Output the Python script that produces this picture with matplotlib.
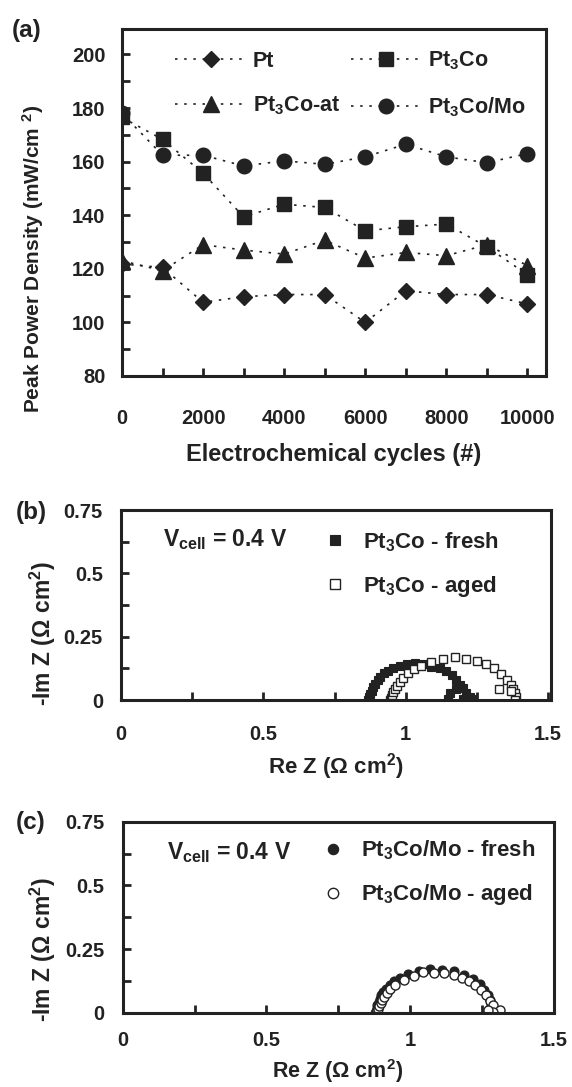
import matplotlib
matplotlib.use('Agg')
import matplotlib.pyplot as plt
from matplotlib.ticker import MultipleLocator

# ---- data -------------------------------------------------------------
cycles = [0, 1000, 2000, 3000, 4000, 5000, 6000, 7000, 8000, 9000, 10000]
pt = [121.8, 120.5, 107.5, 109.6, 110.4, 110.4, 100.0, 111.8, 110.4, 110.4, 106.9]
pt3co = [176.5, 168.3, 155.7, 139.4, 144.1, 142.9, 134.2, 135.7, 136.7, 128.2, 117.8]
pt3co_at = [123.0, 119.3, 129.0, 127.0, 125.5, 130.7, 124.0, 126.1, 124.9, 129.0, 121.2]
pt3co_mo = [178.0, 162.4, 162.4, 158.4, 160.3, 159.0, 161.8, 166.5, 161.8, 159.6, 163.0]

# Nyquist, Pt3Co
b_fresh_re = [0.868, 0.872, 0.876, 0.881, 0.886, 0.893, 0.901, 0.911, 0.923, 0.938,
              0.956, 0.979, 1.003, 1.032, 1.061, 1.090, 1.120, 1.143, 1.161, 1.178,
              1.190, 1.202, 1.213, 1.225, 1.237, 1.178, 1.155, 1.149, 1.202]
b_fresh_im = [0.000, 0.011, 0.024, 0.037, 0.050, 0.063, 0.079, 0.092, 0.105, 0.116,
              0.125, 0.136, 0.142, 0.145, 0.142, 0.132, 0.125, 0.116, 0.099, 0.079,
              0.059, 0.046, 0.026, 0.013, 0.003, 0.042, 0.026, 0.003, 0.003]
b_aged_re = [0.944, 0.948, 0.951, 0.956, 0.962, 0.970, 0.979, 0.991, 1.009, 1.028,
             1.055, 1.090, 1.131, 1.172, 1.213, 1.251, 1.283, 1.310, 1.336, 1.354,
             1.368, 1.377, 1.384, 1.389, 1.383, 1.328, 1.368]
b_aged_im = [0.000, 0.009, 0.020, 0.030, 0.042, 0.057, 0.072, 0.088, 0.105, 0.121,
             0.136, 0.149, 0.161, 0.168, 0.163, 0.154, 0.142, 0.125, 0.103, 0.079,
             0.059, 0.042, 0.026, 0.011, 0.000, 0.042, 0.037]

# Nyquist, Pt3Co/Mo
c_fresh_re = [0.878, 0.881, 0.883, 0.886, 0.890, 0.894, 0.900, 0.907, 0.916, 0.928,
              0.944, 0.965, 0.994, 1.029, 1.070, 1.110, 1.151, 1.188, 1.220, 1.244,
              1.258, 1.269, 1.276, 1.281, 1.283]
c_fresh_im = [0.000, 0.009, 0.020, 0.033, 0.043, 0.056, 0.069, 0.082, 0.095, 0.111,
              0.124, 0.137, 0.153, 0.166, 0.173, 0.170, 0.163, 0.150, 0.134, 0.113,
              0.091, 0.069, 0.051, 0.033, 0.016]
c_aged_re = [0.882, 0.885, 0.889, 0.892, 0.897, 0.903, 0.910, 0.919, 0.930, 0.948,
             0.977, 1.012, 1.046, 1.081, 1.116, 1.151, 1.180, 1.203, 1.226, 1.246,
             1.265, 1.278, 1.287, 1.313, 1.288, 1.269]
c_aged_im = [0.000, 0.007, 0.016, 0.026, 0.038, 0.051, 0.064, 0.078, 0.094, 0.111,
             0.129, 0.143, 0.159, 0.157, 0.157, 0.150, 0.137, 0.124, 0.108, 0.091,
             0.069, 0.048, 0.030, 0.013, 0.004, 0.013]

# ---- style ------------------------------------------------------------
ink = '#222222'
plt.rcParams['font.family'] = ['Liberation Sans', 'DejaVu Sans']
plt.rcParams['font.weight'] = 'bold'
plt.rcParams['font.size'] = 14.5          # tick labels
plt.rcParams['mathtext.fontset'] = 'custom'
plt.rcParams['mathtext.rm'] = 'Liberation Sans:bold'
plt.rcParams['mathtext.bf'] = 'Liberation Sans:bold'
plt.rcParams['mathtext.default'] = 'bf'
plt.rcParams['text.color'] = ink
big = 16                                  # labels, legends

fig = plt.figure(figsize=(5.72, 10.87), dpi=100)


def style_axes(ax, xpad, ypad):
    for s in ax.spines.values():
        s.set_linewidth(2.2)
        s.set_color(ink)
    ax.tick_params(which='both', direction='in', length=6, width=2, color=ink,
                   labelcolor=ink, top=False, right=False)
    ax.tick_params(axis='x', which='major', pad=xpad)
    ax.tick_params(axis='y', which='major', pad=ypad)


# ---- (a) peak power density -------------------------------------------
ax1 = fig.add_axes([0.2133, 0.6541, 0.7421, 0.3192])
dot = (0, (1.5, 4))
ax1.plot(cycles, pt, color=ink, ls=dot, lw=1.2, marker='D', ms=8.5, label='Pt')
ax1.plot(cycles, pt3co_at, color=ink, ls=dot, lw=1.2, marker='^', ms=11, label='Pt$_3$Co-at')
ax1.plot(cycles, pt3co, color=ink, ls=dot, lw=1.2, marker='s', ms=10, label='Pt$_3$Co')
ax1.plot(cycles, pt3co_mo, color=ink, ls=dot, lw=1.2, marker='o', ms=10.5, label='Pt$_3$Co/Mo')
ax1.set_xlim(0, 10470)
ax1.set_ylim(80, 209.5)
ax1.xaxis.set_major_locator(MultipleLocator(2000))
ax1.xaxis.set_minor_locator(MultipleLocator(1000))
ax1.yaxis.set_major_locator(MultipleLocator(20))
ax1.yaxis.set_minor_locator(MultipleLocator(10))
style_axes(ax1, 24, 12)
ax1.legend(ncol=2, loc='upper left', bbox_to_anchor=(0.125, 0.94), frameon=False,
           borderpad=0, handlelength=3.3, handletextpad=0.3, columnspacing=0.5,
           labelspacing=1.05, borderaxespad=0, prop={'size': 15.5})
fig.text(33 / 572, 1 - 413 / 1087, 'Peak Power Density (mW/cm $^{2}$)', rotation=90,
         ha='center', va='bottom', fontsize=15)
fig.text(334 / 572, 1 - 454 / 1087, 'Electrochemical cycles (#)', ha='center', va='center',
         fontsize=17)
fig.text(27 / 572, 1 - 31 / 1087, '(a)', ha='center', va='center', fontsize=17.5)


# ---- (b), (c) Nyquist --------------------------------------------------
def nyquist(rect, xmax, fre, fim, are, aim, marker, ms, lab_f, lab_a, leg_anchor, vpos,
            ylab_bottom, xpad):
    ax = fig.add_axes(rect)
    ax.plot(fre, fim, ls='none', marker=marker, ms=ms, mfc=ink, mec=ink, mew=0.8, label=lab_f)
    ax.plot(are, aim, ls='none', marker=marker, ms=ms, mfc='white', mec=ink, mew=1.0, label=lab_a)
    ax.set_xlim(0, xmax)
    ax.set_ylim(0, 0.75)
    ax.set_xticks([0, 0.5, 1, 1.5])
    ax.set_xticklabels(['0', '0.5', '1', '1.5'])
    ax.set_yticks([0, 0.25, 0.5, 0.75])
    ax.set_yticklabels(['0', '0.25', '0.5', '0.75'])
    ax.xaxis.set_minor_locator(MultipleLocator(0.25))
    ax.yaxis.set_minor_locator(MultipleLocator(0.125))
    style_axes(ax, xpad, 13)
    ax.legend(loc='upper left', bbox_to_anchor=leg_anchor, frameon=False, borderpad=0,
              handlelength=0.9, handletextpad=0.8, labelspacing=0.9, borderaxespad=0,
              markerscale=1.15, prop={'size': big})
    ax.text(vpos[0], vpos[1], r'V$_{cell}$ = 0.4 V', transform=ax.transAxes,
            ha='left', va='center', fontsize=16.5)
    fig.text(43 / 572, ylab_bottom, r'-Im Z ($\Omega$ cm$^2$)', rotation=90,
             ha='center', va='bottom', fontsize=16.5)
    return ax


axb = nyquist([0.2115, 0.3560, 0.7517, 0.1748], 1.51,
              b_fresh_re, b_fresh_im, b_aged_re, b_aged_im, 's', 6,
              'Pt$_3$Co - fresh', 'Pt$_3$Co - aged', (0.474, 0.895), (0.098, 0.842),
              1 - 706 / 1087, 18)
fig.text(336 / 572, 1 - 767 / 1087, r'Re Z ($\Omega$ cm$^2$)', ha='center', va='center',
         fontsize=16)
fig.text(31 / 572, 1 - 512 / 1087, '(b)', ha='center', va='center', fontsize=17.5)

axc = nyquist([0.2145, 0.0681, 0.7540, 0.1760], 1.5,
              c_fresh_re, c_fresh_im, c_aged_re, c_aged_im, 'o', 6.5,
              'Pt$_3$Co/Mo - fresh', 'Pt$_3$Co/Mo - aged', (0.465, 0.91), (0.103, 0.838),
              1 - 1022 / 1087, 13)
fig.text(338 / 572, 1 - 1071 / 1087, r'Re Z ($\Omega$ cm$^2$)', ha='center', va='center',
         fontsize=15.5)
fig.text(31 / 572, 1 - 822 / 1087, '(c)', ha='center', va='center', fontsize=17.5)

fig.savefig('out.png', dpi=100)
